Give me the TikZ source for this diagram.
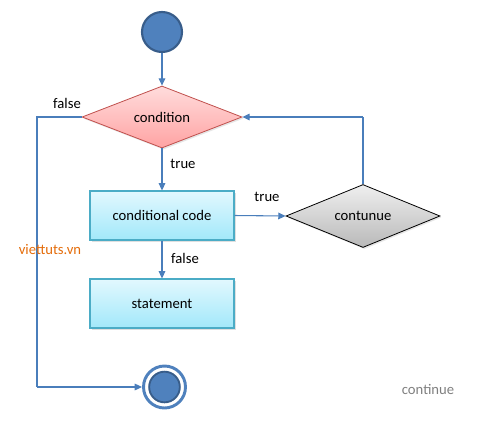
\documentclass[tikz,border=0pt]{standalone}
\usepackage{fontspec}
\setmainfont{Carlito}
\usetikzlibrary{shapes.geometric,arrows.meta,shadows}
\definecolor{lineblue}{HTML}{4A7EBB}
\definecolor{circfill}{HTML}{4F81BD}
\definecolor{circdark}{HTML}{385D8A}
\definecolor{pinktop}{HTML}{FFDCDC}
\definecolor{pinkbot}{HTML}{FFA3A3}
\definecolor{pinkline}{HTML}{C0504D}
\definecolor{cyantop}{HTML}{E2F8FE}
\definecolor{cyanbot}{HTML}{A2E8FA}
\definecolor{cyanline}{HTML}{4BACC6}
\definecolor{graytop}{HTML}{EFEFEF}
\definecolor{graybot}{HTML}{B9B9B9}
\definecolor{vorange}{HTML}{E46C0A}
\definecolor{ctgray}{HTML}{7F7F7F}
\begin{document}
\begin{tikzpicture}[x=0.75pt,y=-0.75pt,
  font=\fontsize{11}{13}\selectfont,
  conn/.style={draw=lineblue,line width=0.8pt},
  arr/.style={conn,-{Triangle[width=5pt,length=5.5pt]}},
  procbox/.style={rectangle,draw=cyanline,line width=0.8pt,top color=cyantop,bottom color=cyanbot,
    minimum width=108pt,minimum height=36.75pt,inner sep=0pt,
    drop shadow={shadow xshift=1.2pt,shadow yshift=-1.2pt,opacity=0.25}},
  lbl/.style={inner sep=0pt}]
\useasboundingbox (0,0) rectangle (493,422);
\node[circle,fill=circfill,draw=circdark,line width=1.6pt,minimum size=30pt,inner sep=0pt] (start) at (162,32) {};
\node[diamond,aspect=2.58,draw=pinkline,line width=0.6pt,top color=pinktop,bottom color=pinkbot,
  minimum width=120pt,minimum height=46.5pt,inner sep=0pt,
  drop shadow={shadow xshift=1pt,shadow yshift=-1.2pt,opacity=0.2}] (cond) at (162,117) {condition};
\node[procbox] (code) at (162,215.5) {conditional code};
\node[procbox] (stmt) at (162,303.5) {statement};
\node[diamond,aspect=2.44,draw=black,line width=0.6pt,top color=graytop,bottom color=graybot,
  minimum width=115.5pt,minimum height=47.25pt,inner sep=0pt,
  drop shadow={shadow xshift=1pt,shadow yshift=-1.2pt,opacity=0.2}] (cont) at (363,216) {contunue};
\node[circle,draw=circfill,line width=2.2pt,fill=white,minimum size=31.5pt,inner sep=0pt] (endo) at (164.5,387) {};
\node[circle,fill=circfill,draw=circdark,line width=1.4pt,minimum size=23pt,inner sep=0pt] (endi) at (164.5,387) {};
\coordinate (lefttop) at (37,117);
\coordinate (leftbot) at (37,387);
\coordinate (righttop) at (363,117);
\draw[arr] (start) -- (cond.north);
\draw[arr] (cond.south) -- (code.north);
\draw[arr] (code.south) -- (stmt.north);
\draw[arr] (code.east) -- (cont.west);
\draw[conn] (cond.west) -- (lefttop) -- (leftbot);
\draw[arr] (leftbot) -- (endo.west);
\draw[conn] (cont.north) -- (righttop);
\draw[arr] (righttop) -- (cond.east);
\node[lbl] (lfalse) at (67,103) {false};
\node[lbl] (ltrue1) at (183,164) {true};
\node[lbl] (ltrue2) at (267,197) {true};
\node[lbl] (lfalse2) at (185,258) {false};
\node[lbl,text=vorange] (viet) at (50,250) {viettuts.vn};
\node[lbl,text=ctgray] (ctext) at (428,389) {continue};
\end{tikzpicture}
\end{document}
